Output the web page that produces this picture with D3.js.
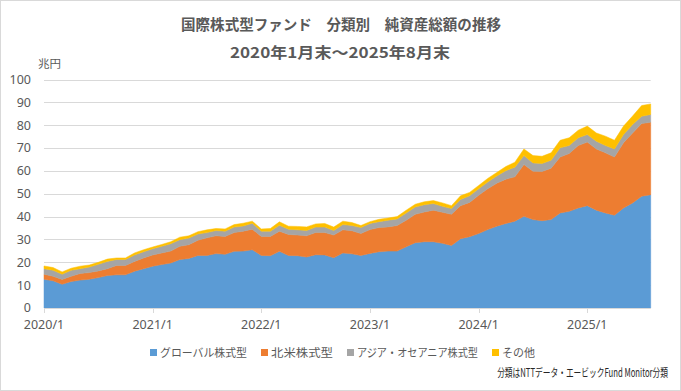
<!DOCTYPE html>
<html><head><meta charset="utf-8">
<script src="https://cdn.jsdelivr.net/npm/d3@7"></script>
<style>
html,body{margin:0;padding:0;background:#fff;}
svg{display:block;}
text{font-family:"Noto Sans CJK JP","Noto Sans",sans-serif;}
</style></head>
<body>
<svg id="chart" width="681" height="391"></svg>
<script>
// ---- data (兆円), monthly 2020/1 .. 2025/8 ----
const startYear = 2020, endYear = 2025, endMonth = 8;
const months = [];
for (let y = startYear; y <= endYear; y++) {
  for (let m = 1; m <= 12; m++) {
    if (y === endYear && m > endMonth) break;
    months.push(y + "/" + m);
  }
}
const seriesNames = ["グローバル株式型", "北米株式型", "アジア・オセアニア株式型", "その他"];
const globalEq = [12.6,11.9,10.4,11.6,12.2,12.6,13.3,14.2,14.5,14.5,16.1,17.2,
  18.3,19.0,19.7,21.2,21.7,23.0,23.0,23.8,23.5,24.8,24.9,25.5,
  23.0,22.9,24.8,23.0,22.9,22.3,23.3,23.2,22.0,24.1,23.7,23.0,
  23.9,24.6,24.9,24.9,26.8,28.6,29.0,29.0,28.3,27.4,30.3,31.2,
  32.6,34.3,35.8,37.0,38.0,40.1,38.7,38.2,38.7,41.6,42.3,43.8,
  44.8,42.8,41.6,40.6,43.8,46.0,48.9,49.6];
const northAmerica = [2.2,2.0,2.1,2.3,2.9,2.9,2.9,3.0,4.1,4.1,4.3,4.7,
  4.9,5.1,5.2,5.8,6.0,6.7,7.7,7.8,7.8,8.2,8.7,9.0,
  8.3,8.4,8.8,9.2,9.0,9.3,9.7,9.8,9.9,10.1,10.1,9.6,
  10.4,10.6,10.6,11.2,11.6,12.4,13.0,13.8,13.6,13.6,14.5,15.0,
  16.7,17.9,18.8,19.4,19.4,22.7,21.2,21.5,22.5,24.5,25.3,27.3,
  27.8,26.8,26.3,25.5,28.5,30.6,31.8,31.7];
const asiaOceania = [2.4,2.6,2.3,2.6,2.1,2.4,2.9,3.2,2.6,2.6,2.8,2.7,
  2.7,2.9,3.2,2.9,2.9,2.7,2.3,2.3,2.3,2.4,2.3,2.6,
  2.3,2.3,2.6,2.3,2.3,2.3,2.4,2.4,2.0,2.3,2.3,2.6,
  2.7,2.6,2.9,2.9,3.2,3.2,3.2,2.9,2.6,2.5,2.7,2.9,
  2.9,2.9,3.2,3.7,4.2,3.9,3.6,3.5,3.5,4.0,3.5,3.4,
  3.3,3.4,3.2,3.5,3.6,3.7,3.2,3.4];
const others = [1.2,1.2,1.0,0.9,1.1,0.9,0.9,1.0,0.7,0.7,0.9,0.9,
  0.8,0.8,0.9,1.1,1.0,1.0,1.2,0.9,1.0,1.1,1.2,0.9,
  1.0,1.2,1.5,1.3,1.5,1.6,1.4,1.6,1.5,1.5,1.3,0.9,
  0.8,1.0,1.0,1.0,1.2,1.2,1.3,1.3,1.5,1.3,1.6,1.5,
  1.4,1.6,1.5,1.8,2.2,2.9,3.2,3.2,3.2,3.3,3.4,3.3,
  3.7,3.6,4.1,3.8,3.7,3.7,4.7,4.6];
const yTicks = [0,10,20,30,40,50,60,70,80,90,100];
const xTickLabels = ["2020/1","2021/1","2022/1","2023/1","2024/1","2025/1"];
const colors = ["#5B9BD5","#ED7D31","#A5A5A5","#FFC000"];

const titleLine1 = "国際株式型ファンド　分類別　純資産総額の推移";
const titleLine2 = "2020年1月末～2025年8月末";
const unitLabel = "兆円";
const footnote = "分類はNTTデータ・エービックFund Monitor分類";

// ---- build table ----
const seriesArrays = [globalEq, northAmerica, asiaOceania, others];
const table = months.map((m, i) => {
  const row = {month: m, idx: i};
  seriesNames.forEach((s, k) => row[s] = seriesArrays[k][i]);
  return row;
});

const svg = d3.select("#chart");
svg.append("rect").attr("x",0.5).attr("y",0.5).attr("width",680).attr("height",390)
  .attr("fill","#fff").attr("stroke","#d9d9d9");

const plot = {left:44, right:650.7, top:79.5, bottom:308};
const x = d3.scaleLinear().domain([0, months.length-1]).range([plot.left, plot.right]);
const y = d3.scaleLinear().domain([0,100]).range([plot.bottom, plot.top]);

// gridlines
svg.append("g").selectAll("line").data(yTicks.filter(d=>d>0)).join("line")
  .attr("x1", plot.left).attr("x2", plot.right)
  .attr("y1", d=>Math.round(y(d))+0.5).attr("y2", d=>Math.round(y(d))+0.5)
  .attr("stroke","#d9d9d9").attr("stroke-width",1);

// stacked areas
const stack = d3.stack().keys(seriesNames);
const layers = stack(table);
const area = d3.area()
  .x(d=>x(d.data.idx)).y0(d=>y(d[0])).y1(d=>y(d[1]));
svg.append("g").selectAll("path").data(layers).join("path")
  .attr("d", area).attr("fill",(d,i)=>colors[i])
  .attr("stroke",(d,i)=>colors[i]).attr("stroke-width",0.5);

// y axis labels
svg.append("g").selectAll("text").data(yTicks).join("text")
  .attr("x", 31).attr("y", d=>y(d)).attr("dy","0.35em")
  .attr("text-anchor","end").attr("font-size",12.5).attr("fill","#595959")
  .style("font-family","'Noto Sans',sans-serif")
  .text(d=>d);

// x axis
const xAxisG = svg.append("g").attr("transform",`translate(0,${plot.bottom})`);
xAxisG.append("line").attr("x1",plot.left).attr("x2",plot.right)
  .attr("y1",0.5).attr("y2",0.5).attr("stroke","#d9d9d9");
const tickIdx = xTickLabels.map(l => months.indexOf(l));
xAxisG.selectAll("line.t").data(tickIdx).join("line").attr("class","t")
  .attr("x1",d=>Math.round(x(d))+0.5).attr("x2",d=>Math.round(x(d))+0.5)
  .attr("y1",0).attr("y2",5).attr("stroke","#d9d9d9");
xAxisG.selectAll("text").data(xTickLabels).join("text")
  .attr("x",l=>x(months.indexOf(l))).attr("y",17).attr("dy","0.35em")
  .attr("text-anchor","middle").attr("font-size",12.5).attr("fill","#595959")
  .style("font-family","'Noto Sans',sans-serif")
  .text(d=>d);

// titles
svg.append("text").attr("x",341).attr("y",25).attr("dy","0.35em")
  .attr("text-anchor","middle").attr("font-size",14.5).attr("font-weight","bold")
  .attr("fill","#595959").attr("textLength",320).attr("lengthAdjust","spacingAndGlyphs")
  .text(titleLine1);
svg.append("text").attr("x",340).attr("y",52.5).attr("dy","0.35em")
  .attr("text-anchor","middle").attr("font-size",15).attr("font-weight","bold")
  .attr("fill","#595959").attr("textLength",220).attr("lengthAdjust","spacingAndGlyphs")
  .text(titleLine2);
svg.append("text").attr("x",38).attr("y",64).attr("dy","0.35em")
  .attr("font-size",11.5).attr("fill","#595959").text(unitLabel);

// legend
const legendPos = [{sx:150, tx:160, w:87},{sx:261, tx:271, w:62},{sx:347, tx:357, w:121},{sx:492, tx:502, w:33}];
const lg = svg.append("g");
seriesNames.forEach((s,i)=>{
  lg.append("rect").attr("x",legendPos[i].sx).attr("y",349).attr("width",7).attr("height",7).attr("fill",colors[i]);
  lg.append("text").attr("x",legendPos[i].tx).attr("y",352.5).attr("dy","0.35em")
    .attr("font-size",11.5).attr("fill","#595959")
    .attr("textLength",legendPos[i].w).attr("lengthAdjust","spacingAndGlyphs").text(s);
});

// footnote: condensed horizontally via a scale transform, right edge at x=668
const fnG = svg.append("g");
const fn = fnG.append("text").attr("x",0).attr("y",0).attr("dy","0.35em")
  .attr("text-anchor","end").attr("font-size",11.5).attr("fill","#262626").text(footnote);
const natural = fn.node().getComputedTextLength();
const sx = Math.min(1, 171 / natural);
fnG.attr("transform", `translate(668,373) scale(${sx},1)`);
</script>
</body></html>
